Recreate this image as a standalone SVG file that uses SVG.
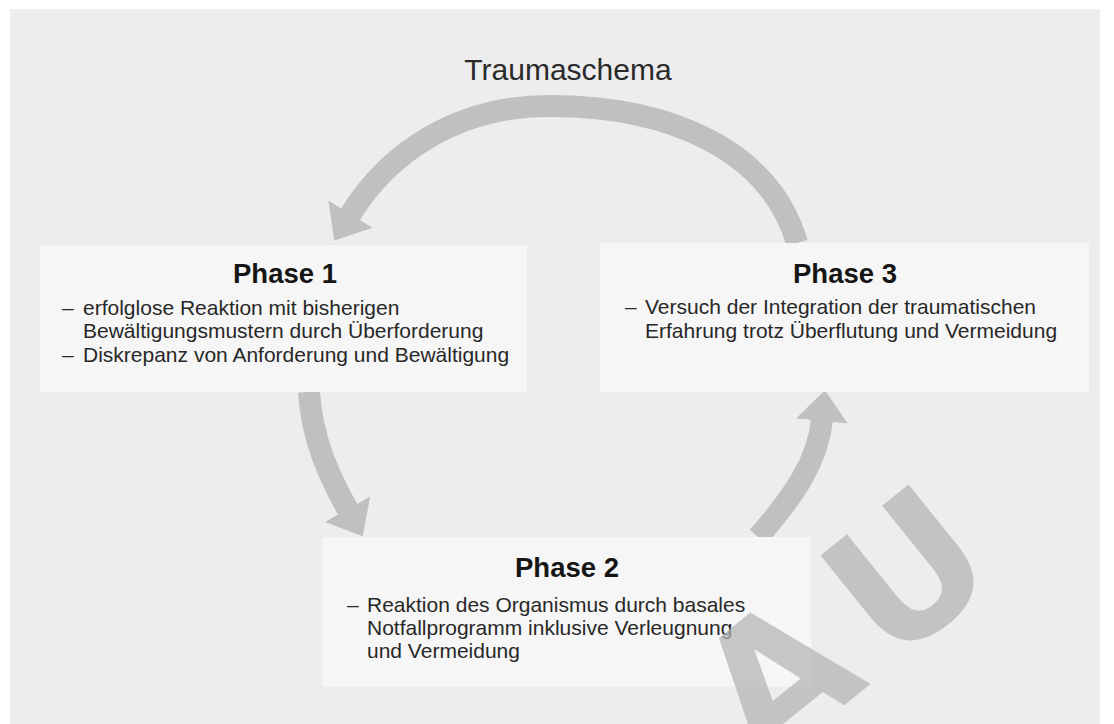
<svg xmlns="http://www.w3.org/2000/svg" width="1114" height="724" viewBox="0 0 1114 724">
  <style>
    .bg { fill: #ededed; }
    .box { fill: #f6f6f6; }
    .title { font-family: "Liberation Sans", Arial, sans-serif; font-weight: bold; font-size: 27.5px; fill: #151515; text-anchor: middle; }
    .body { font-family: "Liberation Sans", Arial, sans-serif; font-size: 21px; fill: #282828; }
    .head { font-family: "Liberation Sans", Arial, sans-serif; font-size: 30px; fill: #2a2a2a; text-anchor: middle; }
    .arrow { fill: none; stroke: #c0c0c0; stroke-width: 22; stroke-linecap: butt; }
    .wm { font-family: "DejaVu Sans", sans-serif; font-weight: bold; font-size: 180px; letter-spacing: 30px; fill: #b4b4b4; opacity: 0.72; }
  </style>
  <defs>
    <marker id="ah" markerUnits="userSpaceOnUse" markerWidth="31" markerHeight="52" viewBox="0 0 31 52" refX="1" refY="26" orient="auto">
      <path d="M0,0 L31,26 L0,52 Z" fill="#c0c0c0"/>
    </marker>
  </defs>
  <rect x="0" y="0" width="1114" height="724" fill="#ffffff"/>
  <rect class="bg" x="10" y="9" width="1090" height="715"/>

  <text id="heading" class="head" x="568" y="80">Traumaschema</text>

  <g id="connectors">
    <path class="arrow" d="M797,243 C770,150 670,106 549,106 C460,106 390,150 350,215" marker-end="url(#ah)"/>
    <path class="arrow" d="M309,392 C312,440 330,478 348,510" marker-end="url(#ah)"/>
    <path class="arrow" d="M758,537 C795,495 818,460 822,420" marker-end="url(#ah)"/>
  </g>

  <g id="phase1">
    <rect class="box" x="40" y="245" width="487" height="147"/>
    <text class="title" x="285" y="283">Phase 1</text>
    <text class="body" y="315"><tspan x="62">–</tspan><tspan x="83">erfolglose Reaktion mit bisherigen</tspan></text>
    <text class="body" x="83" y="338">Bewältigungsmustern durch Überforderung</text>
    <text class="body" y="362"><tspan x="62">–</tspan><tspan x="83">Diskrepanz von Anforderung und Bewältigung</tspan></text>
  </g>

  <g id="phase3">
    <rect class="box" x="600" y="243" width="489" height="149"/>
    <text class="title" x="845" y="283">Phase 3</text>
    <text class="body" y="314"><tspan x="625">–</tspan><tspan x="645">Versuch der Integration der traumatischen</tspan></text>
    <text class="body" x="645" y="338">Erfahrung trotz Überflutung und Vermeidung</text>
  </g>

  <g id="phase2">
    <rect class="box" x="322" y="537" width="489" height="150"/>
    <text class="title" x="567" y="577">Phase 2</text>
    <text class="body" y="612"><tspan x="347">–</tspan><tspan x="367">Reaktion des Organismus durch basales</tspan></text>
    <text class="body" x="367" y="635">Notfallprogramm inklusive Verleugnung</text>
    <text class="body" x="367" y="658">und Vermeidung</text>
  </g>

  <text id="watermark" class="wm" x="763" y="771" transform="rotate(-39 763 771)">AU</text>
</svg>
